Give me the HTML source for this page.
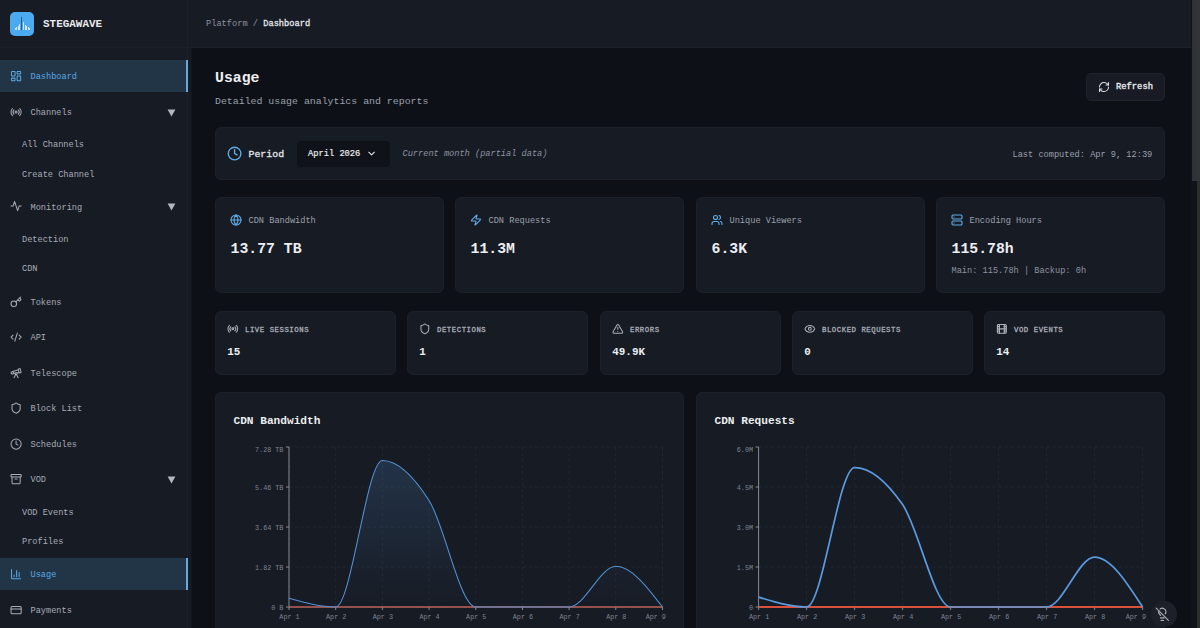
<!DOCTYPE html>
<html><head><meta charset="utf-8"><title>Stegawave - Usage</title>
<style>
*{box-sizing:border-box;margin:0;padding:0}
html,body{width:1200px;height:628px;overflow:hidden;background:#0d1117}
body{font-family:"Liberation Mono",monospace;color:#e4e6ea;position:relative;-webkit-font-smoothing:antialiased}
.abs{position:absolute}
.t{position:absolute;white-space:nowrap;line-height:1}
.card{position:absolute;background:#171b24;border:1px solid #1c2029;border-radius:6px}
</style></head><body>

<div class="abs" style="left:0;top:0;width:188px;height:628px;background:#171b24;border-right:1px solid #1c2029"></div>
<div class="abs" style="left:0;top:47px;width:187px;height:1px;background:#1b1f28"></div>
<div class="abs" style="left:10px;top:12px;width:24px;height:24px;border-radius:5px;background:#4caaee"></div>
<div class="abs" style="left:14.5px;top:28.0px;width:.9px;height:1.8px;background:rgba(255,255,255,.72)"></div>
<div class="abs" style="left:16.2px;top:26.5px;width:.9px;height:3.3px;background:rgba(255,255,255,.72)"></div>
<div class="abs" style="left:17.8px;top:25.5px;width:.9px;height:4.3px;background:rgba(255,255,255,.72)"></div>
<div class="abs" style="left:19.4px;top:23.5px;width:.9px;height:6.3px;background:rgba(255,255,255,.72)"></div>
<div class="abs" style="left:23.0px;top:21.5px;width:.9px;height:8.3px;background:rgba(255,255,255,.72)"></div>
<div class="abs" style="left:24.6px;top:25.0px;width:.9px;height:4.8px;background:rgba(255,255,255,.72)"></div>
<div class="abs" style="left:26.2px;top:25.5px;width:.9px;height:4.3px;background:rgba(255,255,255,.72)"></div>
<div class="abs" style="left:27.9px;top:26.5px;width:.9px;height:3.3px;background:rgba(255,255,255,.72)"></div>
<div class="abs" style="left:29.4px;top:28.0px;width:.9px;height:1.8px;background:rgba(255,255,255,.72)"></div>
<div class="abs" style="left:21.1px;top:16.5px;width:1px;height:13.3px;background:#1f5d94"></div>
<div class="t" style="left:43px;top:18.6px;font-size:10.95px;font-weight:bold;color:#e9eaee">STEGAWAVE</div>
<div class="abs" style="left:0;top:60px;width:188px;height:32px;background:#223547;border-right:2px solid #69a7df"></div>
<svg style="position:absolute;left:9.70px;top:70.10px" width="12.20" height="12.20" viewBox="0 0 24 24" fill="none" stroke="#5aa9e6" stroke-width="2" stroke-linecap="round" stroke-linejoin="round"><rect width="7" height="9" x="3" y="3" rx="1"/><rect width="7" height="5" x="14" y="3" rx="1"/><rect width="7" height="9" x="14" y="12" rx="1"/><rect width="7" height="5" x="3" y="16" rx="1"/></svg>
<div class="t" style="left:30.5px;top:73.4px;font-size:8.62px;color:#5aa9e6">Dashboard</div>
<svg style="position:absolute;left:9.70px;top:105.90px" width="12.20" height="12.20" viewBox="0 0 24 24" fill="none" stroke="#a9adb7" stroke-width="2" stroke-linecap="round" stroke-linejoin="round"><path d="M4.9 19.1C1 15.2 1 8.8 4.9 4.9"/><path d="M7.8 16.2c-2.3-2.3-2.3-6.1 0-8.5"/><circle cx="12" cy="12" r="2"/><path d="M16.2 7.8c2.3 2.3 2.3 6.1 0 8.5"/><path d="M19.1 4.9C23 8.8 23 15.1 19.1 19"/></svg>
<div class="t" style="left:30.5px;top:109.2px;font-size:8.62px;color:#a9adb7">Channels</div>
<svg class="abs" style="left:167px;top:108.6px" width="9" height="8" viewBox="0 0 9 8"><path d="M0.6 0.5h7.8L4.5 7.4z" fill="#b4b7bf"/></svg>
<div class="t" style="left:22px;top:141.2px;font-size:8.62px;color:#a9adb7">All Channels</div>
<div class="t" style="left:22px;top:170.7px;font-size:8.62px;color:#a9adb7">Create Channel</div>
<svg style="position:absolute;left:9.70px;top:200.40px" width="12.20" height="12.20" viewBox="0 0 24 24" fill="none" stroke="#a9adb7" stroke-width="2" stroke-linecap="round" stroke-linejoin="round"><path d="M22 12h-4l-3 9L9 3l-3 9H2"/></svg>
<div class="t" style="left:30.5px;top:203.7px;font-size:8.62px;color:#a9adb7">Monitoring</div>
<svg class="abs" style="left:167px;top:203.1px" width="9" height="8" viewBox="0 0 9 8"><path d="M0.6 0.5h7.8L4.5 7.4z" fill="#b4b7bf"/></svg>
<div class="t" style="left:22px;top:235.5px;font-size:8.62px;color:#a9adb7">Detection</div>
<div class="t" style="left:22px;top:264.7px;font-size:8.62px;color:#a9adb7">CDN</div>
<svg style="position:absolute;left:9.70px;top:295.90px" width="12.20" height="12.20" viewBox="0 0 24 24" fill="none" stroke="#a9adb7" stroke-width="2" stroke-linecap="round" stroke-linejoin="round"><path d="m15.5 7.5 2.3 2.3a1 1 0 0 0 1.4 0l2.1-2.1a1 1 0 0 0 0-1.4L19 4"/><path d="m21 2-9.6 9.6"/><circle cx="7.5" cy="15.5" r="5.5"/></svg>
<div class="t" style="left:30.5px;top:299.2px;font-size:8.62px;color:#a9adb7">Tokens</div>
<svg style="position:absolute;left:9.70px;top:330.90px" width="12.20" height="12.20" viewBox="0 0 24 24" fill="none" stroke="#a9adb7" stroke-width="2" stroke-linecap="round" stroke-linejoin="round"><path d="m18 16 4-4-4-4"/><path d="m6 8-4 4 4 4"/><path d="m14.5 4-5 16"/></svg>
<div class="t" style="left:30.5px;top:334.2px;font-size:8.62px;color:#a9adb7">API</div>
<svg style="position:absolute;left:9.70px;top:366.90px" width="12.20" height="12.20" viewBox="0 0 24 24" fill="none" stroke="#a9adb7" stroke-width="2" stroke-linecap="round" stroke-linejoin="round"><path d="m10.065 12.493-6.18 1.318a.934.934 0 0 1-1.108-.702l-.537-2.15a1.07 1.07 0 0 1 .691-1.265l13.504-4.44"/><path d="m13.56 11.747 4.332-.924"/><path d="m16 21-3.105-6.21"/><path d="M16.485 5.94a2 2 0 0 1 1.455-2.425l1.09-.272a1 1 0 0 1 1.212.727l1.515 6.06a1 1 0 0 1-.727 1.213l-1.09.272a2 2 0 0 1-2.425-1.455z"/><path d="m6.158 8.633 1.114 4.456"/><path d="m8 21 3.105-6.21"/><circle cx="12" cy="13" r="2"/></svg>
<div class="t" style="left:30.5px;top:370.2px;font-size:8.62px;color:#a9adb7">Telescope</div>
<svg style="position:absolute;left:9.70px;top:402.10px" width="12.20" height="12.20" viewBox="0 0 24 24" fill="none" stroke="#a9adb7" stroke-width="2" stroke-linecap="round" stroke-linejoin="round"><path d="M20 13c0 5-3.5 7.5-7.66 8.95a1 1 0 0 1-.67-.01C7.5 20.5 4 18 4 13V6a1 1 0 0 1 1-1c2 0 4.5-1.2 6.24-2.72a1.17 1.17 0 0 1 1.52 0C14.51 3.81 17 5 19 5a1 1 0 0 1 1 1z"/></svg>
<div class="t" style="left:30.5px;top:405.4px;font-size:8.62px;color:#a9adb7">Block List</div>
<svg style="position:absolute;left:9.70px;top:438.10px" width="12.20" height="12.20" viewBox="0 0 24 24" fill="none" stroke="#a9adb7" stroke-width="2" stroke-linecap="round" stroke-linejoin="round"><circle cx="12" cy="12" r="10"/><polyline points="12 6 12 12 16 14"/></svg>
<div class="t" style="left:30.5px;top:441.4px;font-size:8.62px;color:#a9adb7">Schedules</div>
<svg style="position:absolute;left:9.70px;top:473.10px" width="12.20" height="12.20" viewBox="0 0 24 24" fill="none" stroke="#a9adb7" stroke-width="2" stroke-linecap="round" stroke-linejoin="round"><rect width="20" height="5" x="2" y="3" rx="1"/><path d="M4 8v11a2 2 0 0 0 2 2h12a2 2 0 0 0 2-2V8"/><path d="M10 12h4"/></svg>
<div class="t" style="left:30.5px;top:476.4px;font-size:8.62px;color:#a9adb7">VOD</div>
<svg class="abs" style="left:167px;top:475.8px" width="9" height="8" viewBox="0 0 9 8"><path d="M0.6 0.5h7.8L4.5 7.4z" fill="#b4b7bf"/></svg>
<div class="t" style="left:22px;top:508.5px;font-size:8.62px;color:#a9adb7">VOD Events</div>
<div class="t" style="left:22px;top:538.0px;font-size:8.62px;color:#a9adb7">Profiles</div>
<div class="abs" style="left:0;top:558px;width:188px;height:32px;background:#223547;border-right:2px solid #69a7df"></div>
<svg style="position:absolute;left:9.70px;top:568.10px" width="12.20" height="12.20" viewBox="0 0 24 24" fill="none" stroke="#5aa9e6" stroke-width="2" stroke-linecap="round" stroke-linejoin="round"><path d="M3 3v16a2 2 0 0 0 2 2h16"/><path d="M18 17V9"/><path d="M13 17V5"/><path d="M8 17v-3"/></svg>
<div class="t" style="left:30.5px;top:571.4px;font-size:8.62px;color:#5aa9e6">Usage</div>
<svg style="position:absolute;left:9.70px;top:604.10px" width="12.20" height="12.20" viewBox="0 0 24 24" fill="none" stroke="#a9adb7" stroke-width="2" stroke-linecap="round" stroke-linejoin="round"><rect width="20" height="14" x="2" y="5" rx="2"/><line x1="2" x2="22" y1="10" y2="10"/></svg>
<div class="t" style="left:30.5px;top:607.4px;font-size:8.62px;color:#a9adb7">Payments</div>
<div class="abs" style="left:188px;top:0;width:1004px;height:48px;background:#171b24;border-bottom:1px solid #1c202a"></div>
<div class="abs" style="left:188px;top:48px;width:4px;height:580px;background:linear-gradient(90deg,#171b24 0,#161a22 75%,#0d1117 100%)"></div>
<div class="t" style="left:206px;top:19.8px;font-size:8.68px;color:#8d93a0">Platform / <span style="color:#e4e6ea;-webkit-text-stroke:.3px #e4e6ea">Dashboard</span></div>
<div class="abs" style="left:1191px;top:0;width:9px;height:628px;background:#10131a"></div><div class="abs" style="left:1197px;top:0;width:3px;height:628px;background:#2b2e2d"></div>
<div class="abs" style="left:1192px;top:0;width:8px;height:181px;background:linear-gradient(90deg,#2e313a,#313535)"></div>
<div class="t" style="left:215px;top:70.8px;font-size:14.8px;font-weight:bold;color:#eceef1">Usage</div>
<div class="t" style="left:215px;top:96.9px;font-size:9.88px;color:#9aa0ab">Detailed usage analytics and reports</div>
<div class="card" style="left:1086px;top:73px;width:79px;height:28px;border-radius:5px;background:#181b24;border-color:#1f232c"></div>
<svg style="position:absolute;left:1098.10px;top:81.20px" width="12.00" height="12.00" viewBox="0 0 24 24" fill="none" stroke="#dfe1e6" stroke-width="2.1" stroke-linecap="round" stroke-linejoin="round"><path d="M3 12a9 9 0 0 1 9-9 9.75 9.75 0 0 1 6.74 2.74L21 8"/><path d="M21 3v5h-5"/><path d="M21 12a9 9 0 0 1-9 9 9.75 9.75 0 0 1-6.74-2.74L3 16"/><path d="M8 16H3v5"/></svg>
<div class="t" style="left:1116px;top:83.4px;font-size:8.8px;color:#e8eaee;-webkit-text-stroke:.35px #e8eaee">Refresh</div>
<div class="card" style="left:215px;top:127px;width:950px;height:53px"></div>
<svg style="position:absolute;left:227.30px;top:146.10px" width="15.20" height="15.20" viewBox="0 0 24 24" fill="none" stroke="#5eabe8" stroke-width="2.2" stroke-linecap="round" stroke-linejoin="round"><circle cx="12" cy="12" r="10"/><polyline points="12 6 12 12 16 14"/></svg>
<div class="t" style="left:248.5px;top:149.5px;font-size:9.88px;color:#e4e6ea;-webkit-text-stroke:.3px #e4e6ea">Period</div>
<div class="abs" style="left:297px;top:141px;width:93px;height:26px;background:#0f1218;border-radius:4px"></div>
<div class="t" style="left:308px;top:150px;font-size:8.72px;color:#e8eaee;-webkit-text-stroke:.2px #e8eaee">April 2026</div>
<svg style="position:absolute;left:366.20px;top:147.70px" width="11.20" height="11.20" viewBox="0 0 24 24" fill="none" stroke="#e4e6ea" stroke-width="2.3" stroke-linecap="round" stroke-linejoin="round"><path d="m6 9 6 6 6-6"/></svg>
<div class="t" style="left:402.5px;top:150px;font-size:8.65px;font-style:italic;color:#8d93a0">Current month (partial data)</div>
<div class="t" style="left:1012.5px;top:150.6px;font-size:8.65px;color:#9aa0ab">Last computed: Apr 9, 12:39</div>
<div class="card" style="left:215px;top:197px;width:229px;height:96px"></div>
<svg style="position:absolute;left:229.90px;top:214.20px" width="12.00" height="12.00" viewBox="0 0 24 24" fill="none" stroke="#62aeea" stroke-width="2.2" stroke-linecap="round" stroke-linejoin="round"><circle cx="12" cy="12" r="10"/><path d="M12 2a14.5 14.5 0 0 0 0 20 14.5 14.5 0 0 0 0-20"/><path d="M2 12h20"/></svg>
<div class="t" style="left:248.5px;top:217.2px;font-size:8.65px;color:#9aa0ab">CDN Bandwidth</div>
<div class="t" style="left:230.5px;top:242.1px;font-size:14.8px;font-weight:bold;color:#eceef1">13.77 TB</div>
<div class="card" style="left:455px;top:197px;width:229px;height:96px"></div>
<svg style="position:absolute;left:469.90px;top:214.20px" width="12.00" height="12.00" viewBox="0 0 24 24" fill="none" stroke="#62aeea" stroke-width="2.2" stroke-linecap="round" stroke-linejoin="round"><path d="M4 14a1 1 0 0 1-.78-1.63l9.9-10.2a.5.5 0 0 1 .86.46l-1.92 6.02A1 1 0 0 0 13 10h7a1 1 0 0 1 .78 1.63l-9.9 10.2a.5.5 0 0 1-.86-.46l1.92-6.02A1 1 0 0 0 11 14z"/></svg>
<div class="t" style="left:488.5px;top:217.2px;font-size:8.65px;color:#9aa0ab">CDN Requests</div>
<div class="t" style="left:470.5px;top:242.1px;font-size:14.8px;font-weight:bold;color:#eceef1">11.3M</div>
<div class="card" style="left:696px;top:197px;width:229px;height:96px"></div>
<svg style="position:absolute;left:710.90px;top:214.20px" width="12.00" height="12.00" viewBox="0 0 24 24" fill="none" stroke="#62aeea" stroke-width="2.2" stroke-linecap="round" stroke-linejoin="round"><path d="M16 21v-2a4 4 0 0 0-4-4H6a4 4 0 0 0-4 4v2"/><circle cx="9" cy="7" r="4"/><path d="M22 21v-2a4 4 0 0 0-3-3.87"/><path d="M16 3.13a4 4 0 0 1 0 7.75"/></svg>
<div class="t" style="left:729.5px;top:217.2px;font-size:8.65px;color:#9aa0ab">Unique Viewers</div>
<div class="t" style="left:711.5px;top:242.1px;font-size:14.8px;font-weight:bold;color:#eceef1">6.3K</div>
<div class="card" style="left:936px;top:197px;width:229px;height:96px"></div>
<svg style="position:absolute;left:950.90px;top:214.20px" width="12.00" height="12.00" viewBox="0 0 24 24" fill="none" stroke="#62aeea" stroke-width="2.2" stroke-linecap="round" stroke-linejoin="round"><rect width="20" height="8" x="2" y="2" rx="2" ry="2"/><rect width="20" height="8" x="2" y="14" rx="2" ry="2"/><line x1="6" x2="6.01" y1="6" y2="6"/><line x1="6" x2="6.01" y1="18" y2="18"/></svg>
<div class="t" style="left:969.5px;top:217.2px;font-size:8.65px;color:#9aa0ab">Encoding Hours</div>
<div class="t" style="left:951.5px;top:242.1px;font-size:14.8px;font-weight:bold;color:#eceef1">115.78h</div>
<div class="t" style="left:951.5px;top:267.2px;font-size:8.65px;color:#8d93a0">Main: 115.78h | Backup: 0h</div>
<div class="card" style="left:215px;top:311px;width:181px;height:64px"></div>
<svg style="position:absolute;left:227.15px;top:323.45px" width="11.70" height="11.70" viewBox="0 0 24 24" fill="none" stroke="#adb1ba" stroke-width="2.1" stroke-linecap="round" stroke-linejoin="round"><path d="M4.9 19.1C1 15.2 1 8.8 4.9 4.9"/><path d="M7.8 16.2c-2.3-2.3-2.3-6.1 0-8.5"/><circle cx="12" cy="12" r="2"/><path d="M16.2 7.8c2.3 2.3 2.3 6.1 0 8.5"/><path d="M19.1 4.9C23 8.8 23 15.1 19.1 19"/></svg>
<div class="t" style="left:245.0px;top:327px;font-size:7.3px;letter-spacing:.55px;color:#a9adb7;-webkit-text-stroke:.3px #a9adb7">LIVE SESSIONS</div>
<div class="t" style="left:227.3px;top:346.5px;font-size:10.9px;font-weight:bold;color:#eceef1">15</div>
<div class="card" style="left:407px;top:311px;width:181px;height:64px"></div>
<svg style="position:absolute;left:419.15px;top:323.45px" width="11.70" height="11.70" viewBox="0 0 24 24" fill="none" stroke="#adb1ba" stroke-width="2.1" stroke-linecap="round" stroke-linejoin="round"><path d="M20 13c0 5-3.5 7.5-7.66 8.95a1 1 0 0 1-.67-.01C7.5 20.5 4 18 4 13V6a1 1 0 0 1 1-1c2 0 4.5-1.2 6.24-2.72a1.17 1.17 0 0 1 1.52 0C14.51 3.81 17 5 19 5a1 1 0 0 1 1 1z"/></svg>
<div class="t" style="left:437.0px;top:327px;font-size:7.3px;letter-spacing:.55px;color:#a9adb7;-webkit-text-stroke:.3px #a9adb7">DETECTIONS</div>
<div class="t" style="left:419.3px;top:346.5px;font-size:10.9px;font-weight:bold;color:#eceef1">1</div>
<div class="card" style="left:600px;top:311px;width:181px;height:64px"></div>
<svg style="position:absolute;left:612.15px;top:323.45px" width="11.70" height="11.70" viewBox="0 0 24 24" fill="none" stroke="#adb1ba" stroke-width="2.1" stroke-linecap="round" stroke-linejoin="round"><path d="m21.73 18-8-14a2 2 0 0 0-3.48 0l-8 14A2 2 0 0 0 4 21h16a2 2 0 0 0 1.73-3"/><path d="M12 9v4"/><path d="M12 17h.01"/></svg>
<div class="t" style="left:630.0px;top:327px;font-size:7.3px;letter-spacing:.55px;color:#a9adb7;-webkit-text-stroke:.3px #a9adb7">ERRORS</div>
<div class="t" style="left:612.3px;top:346.5px;font-size:10.9px;font-weight:bold;color:#eceef1">49.9K</div>
<div class="card" style="left:792px;top:311px;width:181px;height:64px"></div>
<svg style="position:absolute;left:804.15px;top:323.45px" width="11.70" height="11.70" viewBox="0 0 24 24" fill="none" stroke="#adb1ba" stroke-width="2.1" stroke-linecap="round" stroke-linejoin="round"><path d="M2.062 12.348a1 1 0 0 1 0-.696 10.75 10.75 0 0 1 19.876 0 1 1 0 0 1 0 .696 10.75 10.75 0 0 1-19.876 0"/><circle cx="12" cy="12" r="3"/></svg>
<div class="t" style="left:822.0px;top:327px;font-size:7.3px;letter-spacing:.55px;color:#a9adb7;-webkit-text-stroke:.3px #a9adb7">BLOCKED REQUESTS</div>
<div class="t" style="left:804.3px;top:346.5px;font-size:10.9px;font-weight:bold;color:#eceef1">0</div>
<div class="card" style="left:984px;top:311px;width:181px;height:64px"></div>
<svg style="position:absolute;left:996.15px;top:323.45px" width="11.70" height="11.70" viewBox="0 0 24 24" fill="none" stroke="#adb1ba" stroke-width="2.4" stroke-linecap="round" stroke-linejoin="round"><rect width="18" height="18" x="3" y="3" rx="2"/><path d="M7 3v18"/><path d="M3 7.5h4"/><path d="M3 12h18"/><path d="M3 16.5h4"/><path d="M17 3v18"/><path d="M17 7.5h4"/><path d="M17 16.5h4"/></svg>
<div class="t" style="left:1014.0px;top:327px;font-size:7.3px;letter-spacing:.55px;color:#a9adb7;-webkit-text-stroke:.3px #a9adb7">VOD EVENTS</div>
<div class="t" style="left:996.3px;top:346.5px;font-size:10.9px;font-weight:bold;color:#eceef1">14</div>
<div class="card" style="left:215px;top:392px;width:469px;height:260px"></div>
<div class="t" style="left:233.5px;top:416px;font-size:11.15px;font-weight:bold;color:#eceef1">CDN Bandwidth</div>
<svg class="abs" style="left:0;top:0" width="1200" height="628" viewBox="0 0 1200 628"><defs><linearGradient id="g215" x1="0" y1="0" x2="0" y2="1"><stop offset="0" stop-color="#4f8fd0" stop-opacity=".21"/><stop offset="1" stop-color="#4f8fd0" stop-opacity="0"/></linearGradient></defs><line x1="289.00" y1="447.00" x2="662.50" y2="447.00" stroke="#232731" stroke-width="1" stroke-dasharray="3 3"/><line x1="289.00" y1="487.00" x2="662.50" y2="487.00" stroke="#232731" stroke-width="1" stroke-dasharray="3 3"/><line x1="289.00" y1="527.00" x2="662.50" y2="527.00" stroke="#232731" stroke-width="1" stroke-dasharray="3 3"/><line x1="289.00" y1="567.00" x2="662.50" y2="567.00" stroke="#232731" stroke-width="1" stroke-dasharray="3 3"/><line x1="289.00" y1="607.00" x2="662.50" y2="607.00" stroke="#232731" stroke-width="1" stroke-dasharray="3 3"/><line x1="289.00" y1="447.00" x2="289.00" y2="607.00" stroke="#232731" stroke-width="1" stroke-dasharray="3 3"/><line x1="335.69" y1="447.00" x2="335.69" y2="607.00" stroke="#232731" stroke-width="1" stroke-dasharray="3 3"/><line x1="382.38" y1="447.00" x2="382.38" y2="607.00" stroke="#232731" stroke-width="1" stroke-dasharray="3 3"/><line x1="429.06" y1="447.00" x2="429.06" y2="607.00" stroke="#232731" stroke-width="1" stroke-dasharray="3 3"/><line x1="475.75" y1="447.00" x2="475.75" y2="607.00" stroke="#232731" stroke-width="1" stroke-dasharray="3 3"/><line x1="522.44" y1="447.00" x2="522.44" y2="607.00" stroke="#232731" stroke-width="1" stroke-dasharray="3 3"/><line x1="569.12" y1="447.00" x2="569.12" y2="607.00" stroke="#232731" stroke-width="1" stroke-dasharray="3 3"/><line x1="615.81" y1="447.00" x2="615.81" y2="607.00" stroke="#232731" stroke-width="1" stroke-dasharray="3 3"/><line x1="662.50" y1="447.00" x2="662.50" y2="607.00" stroke="#232731" stroke-width="1" stroke-dasharray="3 3"/><line x1="289.00" y1="447.00" x2="289.00" y2="607.00" stroke="#868b96" stroke-width="1"/><line x1="289.00" y1="607.00" x2="662.50" y2="607.00" stroke="#868b96" stroke-width="1"/><line x1="286.00" y1="447.00" x2="289.00" y2="447.00" stroke="#868b96" stroke-width="1"/><text x="283.40" y="451.60" text-anchor="end" font-size="6.75" fill="#7f8490" font-family="Liberation Mono">7.28 TB</text><line x1="286.00" y1="487.00" x2="289.00" y2="487.00" stroke="#868b96" stroke-width="1"/><text x="283.40" y="489.60" text-anchor="end" font-size="6.75" fill="#7f8490" font-family="Liberation Mono">5.46 TB</text><line x1="286.00" y1="527.00" x2="289.00" y2="527.00" stroke="#868b96" stroke-width="1"/><text x="283.40" y="529.60" text-anchor="end" font-size="6.75" fill="#7f8490" font-family="Liberation Mono">3.64 TB</text><line x1="286.00" y1="567.00" x2="289.00" y2="567.00" stroke="#868b96" stroke-width="1"/><text x="283.40" y="569.60" text-anchor="end" font-size="6.75" fill="#7f8490" font-family="Liberation Mono">1.82 TB</text><line x1="286.00" y1="607.00" x2="289.00" y2="607.00" stroke="#868b96" stroke-width="1"/><text x="283.40" y="609.60" text-anchor="end" font-size="6.75" fill="#7f8490" font-family="Liberation Mono">0 B</text><line x1="289.00" y1="607.00" x2="289.00" y2="610.00" stroke="#868b96" stroke-width="1"/><text x="289.50" y="618.60" text-anchor="middle" font-size="6.75" fill="#7f8490" font-family="Liberation Mono">Apr 1</text><line x1="335.69" y1="607.00" x2="335.69" y2="610.00" stroke="#868b96" stroke-width="1"/><text x="336.19" y="618.60" text-anchor="middle" font-size="6.75" fill="#7f8490" font-family="Liberation Mono">Apr 2</text><line x1="382.38" y1="607.00" x2="382.38" y2="610.00" stroke="#868b96" stroke-width="1"/><text x="382.88" y="618.60" text-anchor="middle" font-size="6.75" fill="#7f8490" font-family="Liberation Mono">Apr 3</text><line x1="429.06" y1="607.00" x2="429.06" y2="610.00" stroke="#868b96" stroke-width="1"/><text x="429.56" y="618.60" text-anchor="middle" font-size="6.75" fill="#7f8490" font-family="Liberation Mono">Apr 4</text><line x1="475.75" y1="607.00" x2="475.75" y2="610.00" stroke="#868b96" stroke-width="1"/><text x="476.25" y="618.60" text-anchor="middle" font-size="6.75" fill="#7f8490" font-family="Liberation Mono">Apr 5</text><line x1="522.44" y1="607.00" x2="522.44" y2="610.00" stroke="#868b96" stroke-width="1"/><text x="522.94" y="618.60" text-anchor="middle" font-size="6.75" fill="#7f8490" font-family="Liberation Mono">Apr 6</text><line x1="569.12" y1="607.00" x2="569.12" y2="610.00" stroke="#868b96" stroke-width="1"/><text x="569.62" y="618.60" text-anchor="middle" font-size="6.75" fill="#7f8490" font-family="Liberation Mono">Apr 7</text><line x1="615.81" y1="607.00" x2="615.81" y2="610.00" stroke="#868b96" stroke-width="1"/><text x="616.31" y="618.60" text-anchor="middle" font-size="6.75" fill="#7f8490" font-family="Liberation Mono">Apr 8</text><line x1="662.50" y1="607.00" x2="662.50" y2="610.00" stroke="#868b96" stroke-width="1"/><text x="655.80" y="618.60" text-anchor="middle" font-size="6.75" fill="#7f8490" font-family="Liberation Mono">Apr 9</text><line x1="289.00" y1="607.00" x2="662.50" y2="607.00" stroke="#d9513b" stroke-width="1.1"/><path d="M289.00,598.21C304.56,602.60,320.12,607.00,335.69,607.00C351.25,607.00,366.81,460.41,382.38,460.41C397.94,460.41,413.50,475.97,429.06,500.41C444.62,524.84,460.19,607.00,475.75,607.00C491.31,607.00,506.88,607.00,522.44,607.00C538.00,607.00,553.56,607.00,569.12,607.00C584.69,607.00,600.25,566.34,615.81,566.34C631.38,566.34,646.94,586.67,662.50,607.00L662.50,607.00L289.00,607.00Z" fill="url(#g215)"/><path d="M289.00,598.21C304.56,602.60,320.12,607.00,335.69,607.00C351.25,607.00,366.81,460.41,382.38,460.41C397.94,460.41,413.50,475.97,429.06,500.41C444.62,524.84,460.19,607.00,475.75,607.00C491.31,607.00,506.88,607.00,522.44,607.00C538.00,607.00,553.56,607.00,569.12,607.00C584.69,607.00,600.25,566.34,615.81,566.34C631.38,566.34,646.94,586.67,662.50,607.00" fill="none" stroke="#5392d4" stroke-width="1.05"/></svg>
<div class="card" style="left:696px;top:392px;width:469px;height:260px"></div>
<div class="t" style="left:714.5px;top:416px;font-size:11.15px;font-weight:bold;color:#eceef1">CDN Requests</div>
<svg class="abs" style="left:0;top:0" width="1200" height="628" viewBox="0 0 1200 628"><line x1="758.60" y1="447.00" x2="1142.60" y2="447.00" stroke="#232731" stroke-width="1" stroke-dasharray="3 3"/><line x1="758.60" y1="487.00" x2="1142.60" y2="487.00" stroke="#232731" stroke-width="1" stroke-dasharray="3 3"/><line x1="758.60" y1="527.00" x2="1142.60" y2="527.00" stroke="#232731" stroke-width="1" stroke-dasharray="3 3"/><line x1="758.60" y1="567.00" x2="1142.60" y2="567.00" stroke="#232731" stroke-width="1" stroke-dasharray="3 3"/><line x1="758.60" y1="607.00" x2="1142.60" y2="607.00" stroke="#232731" stroke-width="1" stroke-dasharray="3 3"/><line x1="758.60" y1="447.00" x2="758.60" y2="607.00" stroke="#232731" stroke-width="1" stroke-dasharray="3 3"/><line x1="806.60" y1="447.00" x2="806.60" y2="607.00" stroke="#232731" stroke-width="1" stroke-dasharray="3 3"/><line x1="854.60" y1="447.00" x2="854.60" y2="607.00" stroke="#232731" stroke-width="1" stroke-dasharray="3 3"/><line x1="902.60" y1="447.00" x2="902.60" y2="607.00" stroke="#232731" stroke-width="1" stroke-dasharray="3 3"/><line x1="950.60" y1="447.00" x2="950.60" y2="607.00" stroke="#232731" stroke-width="1" stroke-dasharray="3 3"/><line x1="998.60" y1="447.00" x2="998.60" y2="607.00" stroke="#232731" stroke-width="1" stroke-dasharray="3 3"/><line x1="1046.60" y1="447.00" x2="1046.60" y2="607.00" stroke="#232731" stroke-width="1" stroke-dasharray="3 3"/><line x1="1094.60" y1="447.00" x2="1094.60" y2="607.00" stroke="#232731" stroke-width="1" stroke-dasharray="3 3"/><line x1="1142.60" y1="447.00" x2="1142.60" y2="607.00" stroke="#232731" stroke-width="1" stroke-dasharray="3 3"/><line x1="758.60" y1="447.00" x2="758.60" y2="607.00" stroke="#868b96" stroke-width="1"/><line x1="758.60" y1="607.00" x2="1142.60" y2="607.00" stroke="#868b96" stroke-width="1"/><line x1="755.60" y1="447.00" x2="758.60" y2="447.00" stroke="#868b96" stroke-width="1"/><text x="753.00" y="451.60" text-anchor="end" font-size="6.75" fill="#7f8490" font-family="Liberation Mono">6.0M</text><line x1="755.60" y1="487.00" x2="758.60" y2="487.00" stroke="#868b96" stroke-width="1"/><text x="753.00" y="489.60" text-anchor="end" font-size="6.75" fill="#7f8490" font-family="Liberation Mono">4.5M</text><line x1="755.60" y1="527.00" x2="758.60" y2="527.00" stroke="#868b96" stroke-width="1"/><text x="753.00" y="529.60" text-anchor="end" font-size="6.75" fill="#7f8490" font-family="Liberation Mono">3.0M</text><line x1="755.60" y1="567.00" x2="758.60" y2="567.00" stroke="#868b96" stroke-width="1"/><text x="753.00" y="569.60" text-anchor="end" font-size="6.75" fill="#7f8490" font-family="Liberation Mono">1.5M</text><line x1="755.60" y1="607.00" x2="758.60" y2="607.00" stroke="#868b96" stroke-width="1"/><text x="753.00" y="609.60" text-anchor="end" font-size="6.75" fill="#7f8490" font-family="Liberation Mono">0</text><line x1="758.60" y1="607.00" x2="758.60" y2="610.00" stroke="#868b96" stroke-width="1"/><text x="759.10" y="618.60" text-anchor="middle" font-size="6.75" fill="#7f8490" font-family="Liberation Mono">Apr 1</text><line x1="806.60" y1="607.00" x2="806.60" y2="610.00" stroke="#868b96" stroke-width="1"/><text x="807.10" y="618.60" text-anchor="middle" font-size="6.75" fill="#7f8490" font-family="Liberation Mono">Apr 2</text><line x1="854.60" y1="607.00" x2="854.60" y2="610.00" stroke="#868b96" stroke-width="1"/><text x="855.10" y="618.60" text-anchor="middle" font-size="6.75" fill="#7f8490" font-family="Liberation Mono">Apr 3</text><line x1="902.60" y1="607.00" x2="902.60" y2="610.00" stroke="#868b96" stroke-width="1"/><text x="903.10" y="618.60" text-anchor="middle" font-size="6.75" fill="#7f8490" font-family="Liberation Mono">Apr 4</text><line x1="950.60" y1="607.00" x2="950.60" y2="610.00" stroke="#868b96" stroke-width="1"/><text x="951.10" y="618.60" text-anchor="middle" font-size="6.75" fill="#7f8490" font-family="Liberation Mono">Apr 5</text><line x1="998.60" y1="607.00" x2="998.60" y2="610.00" stroke="#868b96" stroke-width="1"/><text x="999.10" y="618.60" text-anchor="middle" font-size="6.75" fill="#7f8490" font-family="Liberation Mono">Apr 6</text><line x1="1046.60" y1="607.00" x2="1046.60" y2="610.00" stroke="#868b96" stroke-width="1"/><text x="1047.10" y="618.60" text-anchor="middle" font-size="6.75" fill="#7f8490" font-family="Liberation Mono">Apr 7</text><line x1="1094.60" y1="607.00" x2="1094.60" y2="610.00" stroke="#868b96" stroke-width="1"/><text x="1095.10" y="618.60" text-anchor="middle" font-size="6.75" fill="#7f8490" font-family="Liberation Mono">Apr 8</text><line x1="1142.60" y1="607.00" x2="1142.60" y2="610.00" stroke="#868b96" stroke-width="1"/><text x="1135.90" y="618.60" text-anchor="middle" font-size="6.75" fill="#7f8490" font-family="Liberation Mono">Apr 9</text><line x1="758.60" y1="607.00" x2="1142.60" y2="607.00" stroke="#d9513b" stroke-width="1.8"/><path d="M758.60,597.13C774.60,602.07,790.60,607.00,806.60,607.00C822.60,607.00,838.60,467.53,854.60,467.53C870.60,467.53,886.60,481.36,902.60,504.60C918.60,527.84,934.60,607.00,950.60,607.00C966.60,607.00,982.60,607.00,998.60,607.00C1014.60,607.00,1030.60,607.00,1046.60,607.00C1062.60,607.00,1078.60,557.13,1094.60,557.13C1110.60,557.13,1126.60,582.07,1142.60,607.00" fill="none" stroke="#5a9ade" stroke-width="1.7"/></svg>
<div class="abs" style="left:1151px;top:600.6px;width:26px;height:26px;border-radius:50%;background:#1d2029"></div>
<svg style="position:absolute;left:1154.70px;top:607.40px" width="14.60" height="14.60" viewBox="0 0 24 24" fill="none" stroke="#a9adb6" stroke-width="1.9" stroke-linecap="round" stroke-linejoin="round"><path d="M16.8 11.2c.8-.9 1.2-2 1.2-3.2a6 6 0 0 0-9.3-5"/><path d="m2 2 20 20"/><path d="M6.3 6.3a4.67 4.67 0 0 0 1.2 5.2c.7.7 1.3 1.5 1.5 2.5"/><path d="M9 18h6"/><path d="M10 22h4"/></svg>
</body></html>
